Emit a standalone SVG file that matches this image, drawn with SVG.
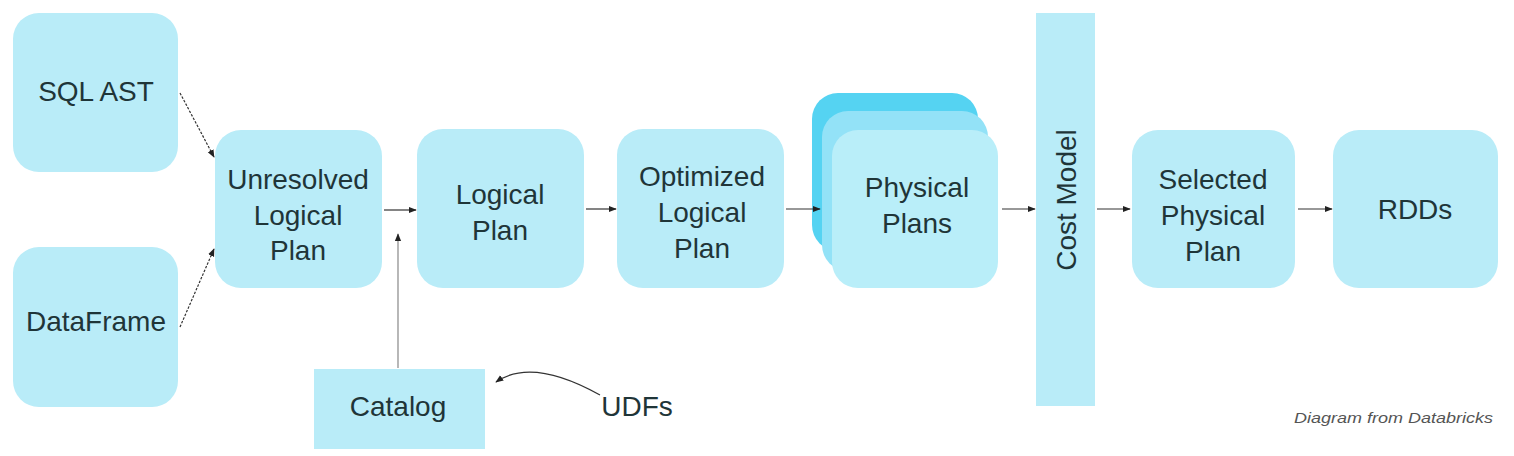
<svg xmlns="http://www.w3.org/2000/svg" width="1514" height="456" viewBox="0 0 1514 456">
<style>
.box{fill:#b9ecf8}
.t{font-family:"Liberation Sans",Arial,sans-serif;font-size:28px;fill:#1f3538;text-anchor:middle}
.c{stroke:#333;stroke-width:1.2;fill:none;marker-end:url(#ah)}
.d{stroke-dasharray:2.5 1.5}
.g{stroke:#888}
</style>
<defs>
<marker id="ah" viewBox="0 0 10 10" refX="9" refY="5" markerWidth="8" markerHeight="8" markerUnits="userSpaceOnUse" orient="auto">
<path d="M0,1 L10,5 L0,9 z" fill="#222"/>
</marker>
</defs>
<rect width="1514" height="456" fill="#ffffff"/>
<g id="sql-ast"><rect class="box" x="13" y="13" width="165" height="159" rx="26"/><text class="t" x="96" y="101">SQL AST</text></g>
<g id="dataframe"><rect class="box" x="13" y="247" width="165" height="160" rx="26"/><text class="t" x="96" y="331">DataFrame</text></g>
<g id="unresolved"><rect class="box" x="215" y="130" width="167" height="158" rx="26"/><text class="t" x="298" y="189">Unresolved</text><text class="t" x="298" y="225">Logical</text><text class="t" x="298" y="260">Plan</text></g>
<g id="logical"><rect class="box" x="417" y="129" width="167" height="159" rx="26"/><text class="t" x="500" y="204">Logical</text><text class="t" x="500" y="240">Plan</text></g>
<g id="optimized"><rect class="box" x="617" y="129" width="167" height="159" rx="26"/><text class="t" x="702" y="186">Optimized</text><text class="t" x="702" y="222">Logical</text><text class="t" x="702" y="258">Plan</text></g>
<g id="physical"><rect x="812" y="93" width="166" height="158" rx="26" fill="#55d3f2"/><rect x="822" y="111" width="166" height="160" rx="26" fill="#93e2f7"/><rect x="832" y="130" width="166" height="158" rx="26" fill="#b9eef9"/><text class="t" x="917" y="197">Physical</text><text class="t" x="917" y="233">Plans</text></g>
<g id="cost-model"><rect class="box" x="1036" y="13" width="59" height="393"/><text class="t" transform="translate(1076,200) rotate(-90)" x="0" y="0">Cost Model</text></g>
<g id="selected"><rect class="box" x="1132" y="130" width="163" height="158" rx="26"/><text class="t" x="1213" y="189">Selected</text><text class="t" x="1213" y="225">Physical</text><text class="t" x="1213" y="261">Plan</text></g>
<g id="rdds"><rect class="box" x="1333" y="130" width="165" height="158" rx="26"/><text class="t" x="1415" y="219">RDDs</text></g>
<g id="catalog"><rect class="box" x="314" y="369" width="171" height="80"/><text class="t" x="398" y="416">Catalog</text></g>
<g id="udfs"><text class="t" x="637" y="416">UDFs</text></g>
<g id="connectors">
<path class="c d" d="M180,93 L214,157"/>
<path class="c d" d="M180,327 L214,249"/>
<path class="c" d="M384,210 L416,210"/>
<path class="c g" d="M398,368 L398,234"/>
<path class="c" d="M586,209 L616,209"/>
<path class="c" d="M786,209 L820,209"/>
<path class="c" d="M1002,209 L1035,209"/>
<path class="c" d="M1097,209 L1130,209"/>
<path class="c" d="M1298,209 L1332,209"/>
<path class="c" d="M600,395 Q532,357 496,382"/>
</g>
<text x="1493" y="423" font-family="'Liberation Sans',Arial,sans-serif" font-style="italic" font-size="15" fill="#555" text-anchor="end" textLength="199" lengthAdjust="spacingAndGlyphs">Diagram from Databricks</text>
</svg>
